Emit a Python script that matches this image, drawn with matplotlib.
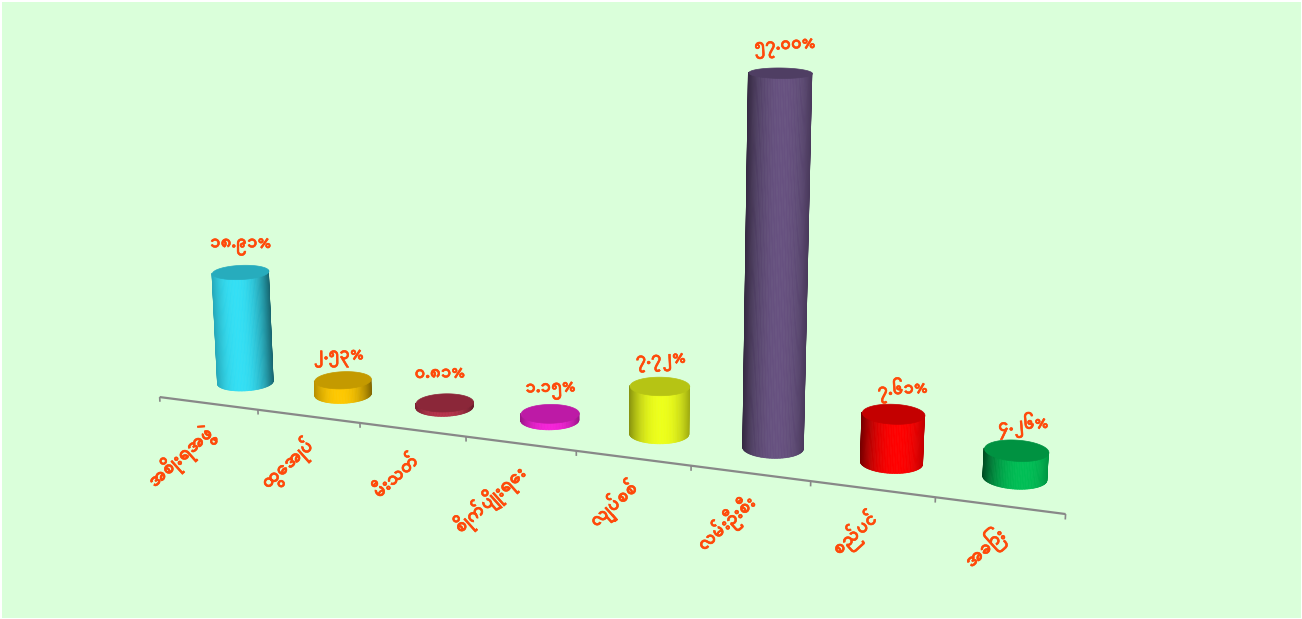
import numpy as np, matplotlib
matplotlib.use('Agg')
import matplotlib.pyplot as plt
import matplotlib.patheffects as pe
from matplotlib.colors import to_rgb
from matplotlib.patches import Rectangle
from mpl_toolkits.mplot3d import proj3d
from mpl_toolkits.mplot3d.art3d import Poly3DCollection

plt.rcParams['font.family'] = ['Padauk', 'Noto Sans Myanmar', 'DejaVu Sans']

categories = ['အစိုးရအဖွဲ့', 'ထွေအုပ်', 'မီးသတ်', 'စိုက်ပျိုးရေး', 'လျှပ်စစ်', 'လမ်းဦးစီး', 'စည်ပင်', 'အခြား']
values = [18.91, 2.53, 0.81, 1.15, 7.72, 57.00, 7.61, 4.26]
value_labels = ['၁၈.၉၁%', '၂.၅၃%', '၀.၈၁%', '၁.၁၅%', '၇.၇၂%', '၅၇.၀၀%', '၇.၆၁%', '၄.၂၆%']
colors = ['#33DFF5', '#FFC800', '#B5324A', '#F522D8', '#EDFF1A', '#675180', '#FF0000', '#00BE55']
TOP_SHADE = 0.77
BG = '#DAFFDA'
TEXT = '#FF4A0A'
AXIS = '#888888'

# label placement, in pixels from the top of each cylinder
LABEL_DX = [0.5, -4, -4.5, 1, 1.5, 5, 9.5, 7]
LABEL_DY = [25, 21, 30, 22, 23, 24, 24, 25]

W_PX, H_PX = 1302, 619
PT = 0.72  # points per pixel at 100 dpi
ELEV, AZIM, ROLL, FOCAL = 14.327, -69.022, 0.128, 0.3835
DEPTH, TALL, RADIUS = 1.2799, 3.1429, 0.2506

fig = plt.figure(figsize=(W_PX/100, H_PX/100), dpi=100, facecolor=BG)
fig.add_artist(Rectangle((0, 0), 1, 1, transform=fig.transFigure, fill=False, edgecolor='white', linewidth=3*PT))
ax = fig.add_axes([84.84/W_PX, -148.31/H_PX, 1010.16/W_PX, 1010.16/H_PX], projection='3d')
ax.computed_zorder = False
ax.set_axis_off()
ax.patch.set_visible(False)
ax.view_init(ELEV, AZIM, ROLL)
ax.set_proj_type('persp', focal_length=FOCAL)
ax.set_box_aspect((8, DEPTH, TALL))
ax.set_autoscale_on(False)
ax.set_xlim(0, 8); ax.set_ylim(0, 1); ax.set_zlim(0, 57)
ax.set_xticks([]); ax.set_yticks([]); ax.set_zticks([])
M = ax.get_proj()

def screen(x, y, z):
    X, Y, _ = proj3d.proj_transform(x, y, z, M)
    return X, Y

n = len(values)
ax.plot([0, n], [0, 0], [0, 0], color=AXIS, lw=1.6, zorder=1, solid_capstyle='butt')
for i in range(n + 1):
    ax.plot([i, i], [0, 0], [0, -0.8], color=AXIS, lw=1.2, zorder=1, solid_capstyle='butt')

# camera position expressed in x-data units, to find the side of each cylinder that faces it
box = np.array([8, DEPTH, TALL])
k = 1.8294640721620434*25/24/np.linalg.norm(box)
e, a = np.deg2rad(ELEV), np.deg2rad(AZIM)
eye = 0.5*box*k + 10*FOCAL*np.array([np.cos(e)*np.cos(a), np.cos(e)*np.sin(a), np.sin(e)])

outline = [pe.withStroke(linewidth=0.4, foreground=TEXT)]
for i, (v, c) in enumerate(zip(values, colors)):
    rgb = np.array(to_rgb(c))
    xc = i + 0.5
    face = np.arctan2(eye[1] - 0.5*DEPTH*k, eye[0] - xc*k)
    theta = face + np.deg2rad(np.linspace(-90, 90, 61))
    xs = xc + RADIUS*np.cos(theta)
    ys = 0.5 + RADIUS/DEPTH*np.sin(theta)
    peak = 0.06*(xc - 4) + 0.03   # the highlight drifts across the cylinders, as under a near light
    quads, fc = [], []
    for j in range(len(theta) - 1):
        quads.append([(xs[j], ys[j], 0), (xs[j+1], ys[j+1], 0), (xs[j+1], ys[j+1], v), (xs[j], ys[j], v)])
        u = np.sin(0.5*(theta[j] + theta[j+1]) - face)
        m = max(1 - 0.38*abs(u - peak)**2.2, 0.38)
        fc.append(np.append(rgb*m, 1))
    side = Poly3DCollection(quads, facecolors=fc, edgecolors=fc, linewidths=0.5, zsort='average', zorder=10 + 2*i)
    ax.add_collection3d(side, autolim=False)
    cap = np.linspace(0, 2*np.pi, 121)
    tc = rgb*TOP_SHADE
    top = Poly3DCollection([list(zip(xc + RADIUS*np.cos(cap), 0.5 + RADIUS/DEPTH*np.sin(cap), np.full_like(cap, v)))],
                           facecolors=[tc], edgecolors=[tc], linewidths=0.5, zorder=11 + 2*i)
    ax.add_collection3d(top, autolim=False)
    ax.annotate(value_labels[i], xy=screen(xc, 0.5, v), xycoords='data',
                xytext=(LABEL_DX[i]*PT, LABEL_DY[i]*PT), textcoords='offset points',
                color=TEXT, fontsize=13.5, fontweight='bold', ha='center', va='center',
                rotation=0.7*i, rotation_mode='anchor', zorder=40, path_effects=outline)
    ax.annotate(categories[i], xy=screen(xc, 0, 0), xycoords='data',
                xytext=(3*PT, -27*PT), textcoords='offset points',
                color=TEXT, fontsize=14, fontweight='bold', ha='right', va='center',
                rotation=42, rotation_mode='anchor', zorder=40, path_effects=outline)

fig.savefig('out.png', dpi=100, facecolor=BG)
